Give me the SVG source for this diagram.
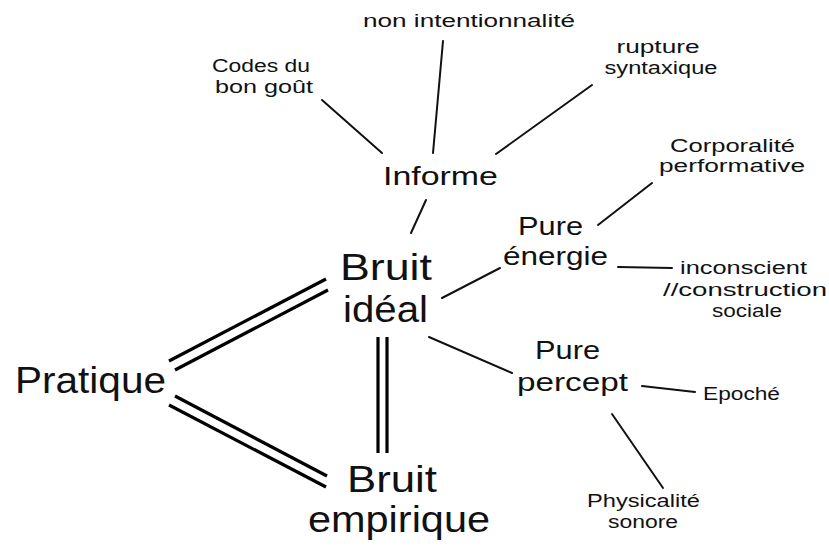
<svg xmlns="http://www.w3.org/2000/svg" width="829" height="546" viewBox="0 0 829 546">
<style>
text{font-family:"Liberation Sans","Arial",sans-serif;fill:#111;text-anchor:middle}
.big{font-size:36px}
.mid{font-size:25px}
.sm{font-size:17.5px}
.l1{stroke:#111;stroke-width:2;stroke-linecap:round;fill:none}
.l2{stroke:#000;stroke-width:3.2;fill:none}
</style>
<rect width="829" height="546" fill="#fff"/>
<g id="connectors">
<line class="l2" x1="169" y1="361" x2="326" y2="279"/>
<line class="l2" x1="175" y1="370" x2="328" y2="290"/>
<line class="l2" x1="175" y1="396" x2="327" y2="476"/>
<line class="l2" x1="169" y1="405" x2="326" y2="487"/>
<line class="l2" x1="378" y1="337" x2="378" y2="453"/>
<line class="l2" x1="387" y1="337" x2="387" y2="453"/>
<line class="l1" x1="322" y1="100" x2="382" y2="153"/>
<line class="l1" x1="443" y1="41" x2="433" y2="153"/>
<line class="l1" x1="592" y1="85" x2="496" y2="154"/>
<line class="l1" x1="426" y1="200" x2="411" y2="233"/>
<line class="l1" x1="442" y1="298" x2="500" y2="268"/>
<line class="l1" x1="429" y1="337" x2="512" y2="373"/>
<line class="l1" x1="598" y1="225" x2="652" y2="183"/>
<line class="l1" x1="618" y1="267" x2="672" y2="268"/>
<line class="l1" x1="642" y1="386" x2="695" y2="392"/>
<line class="l1" x1="612" y1="414" x2="663" y2="488"/>
</g>
<g id="pratique"><text class="big" x="90.5" y="393" textLength="151" lengthAdjust="spacingAndGlyphs">Pratique</text></g>
<g id="bruit-ideal"><text class="big" x="386" y="280" textLength="92" lengthAdjust="spacingAndGlyphs">Bruit</text><text class="big" x="385.5" y="322" textLength="85" lengthAdjust="spacingAndGlyphs">idéal</text></g>
<g id="bruit-empirique"><text class="big" x="392" y="492" textLength="90" lengthAdjust="spacingAndGlyphs">Bruit</text><text class="big" x="399" y="532" textLength="182" lengthAdjust="spacingAndGlyphs">empirique</text></g>
<g id="informe"><text class="mid" x="440.5" y="185" textLength="115" lengthAdjust="spacingAndGlyphs">Informe</text></g>
<g id="non-intentionnalite"><text class="sm" x="469" y="27" textLength="212" lengthAdjust="spacingAndGlyphs">non intentionnalité</text></g>
<g id="codes"><text class="sm" x="261" y="72" textLength="98" lengthAdjust="spacingAndGlyphs">Codes du</text><text class="sm" x="264" y="93" textLength="98" lengthAdjust="spacingAndGlyphs">bon goût</text></g>
<g id="rupture"><text class="sm" x="658" y="53" textLength="83" lengthAdjust="spacingAndGlyphs">rupture</text><text class="sm" x="661" y="74" textLength="113" lengthAdjust="spacingAndGlyphs">syntaxique</text></g>
<g id="pure-energie"><text class="mid" x="550.5" y="235" textLength="65" lengthAdjust="spacingAndGlyphs">Pure</text><text class="mid" x="555.5" y="265" textLength="105" lengthAdjust="spacingAndGlyphs">énergie</text></g>
<g id="corporalite"><text class="sm" x="732.5" y="152" textLength="125" lengthAdjust="spacingAndGlyphs">Corporalité</text><text class="sm" x="732" y="172" textLength="146" lengthAdjust="spacingAndGlyphs">performative</text></g>
<g id="inconscient"><text class="sm" x="743.5" y="274" textLength="127" lengthAdjust="spacingAndGlyphs">inconscient</text><text class="sm" x="745" y="296" textLength="164" lengthAdjust="spacingAndGlyphs">//construction</text><text class="sm" x="747" y="317" textLength="70" lengthAdjust="spacingAndGlyphs">sociale</text></g>
<g id="pure-percept"><text class="mid" x="567.5" y="359" textLength="65" lengthAdjust="spacingAndGlyphs">Pure</text><text class="mid" x="572.5" y="391" textLength="111" lengthAdjust="spacingAndGlyphs">percept</text></g>
<g id="epoche"><text class="sm" x="741.5" y="400" textLength="77" lengthAdjust="spacingAndGlyphs">Epoché</text></g>
<g id="physicalite"><text class="sm" x="643.5" y="507" textLength="113" lengthAdjust="spacingAndGlyphs">Physicalité</text><text class="sm" x="643" y="528" textLength="70" lengthAdjust="spacingAndGlyphs">sonore</text></g>
</svg>
